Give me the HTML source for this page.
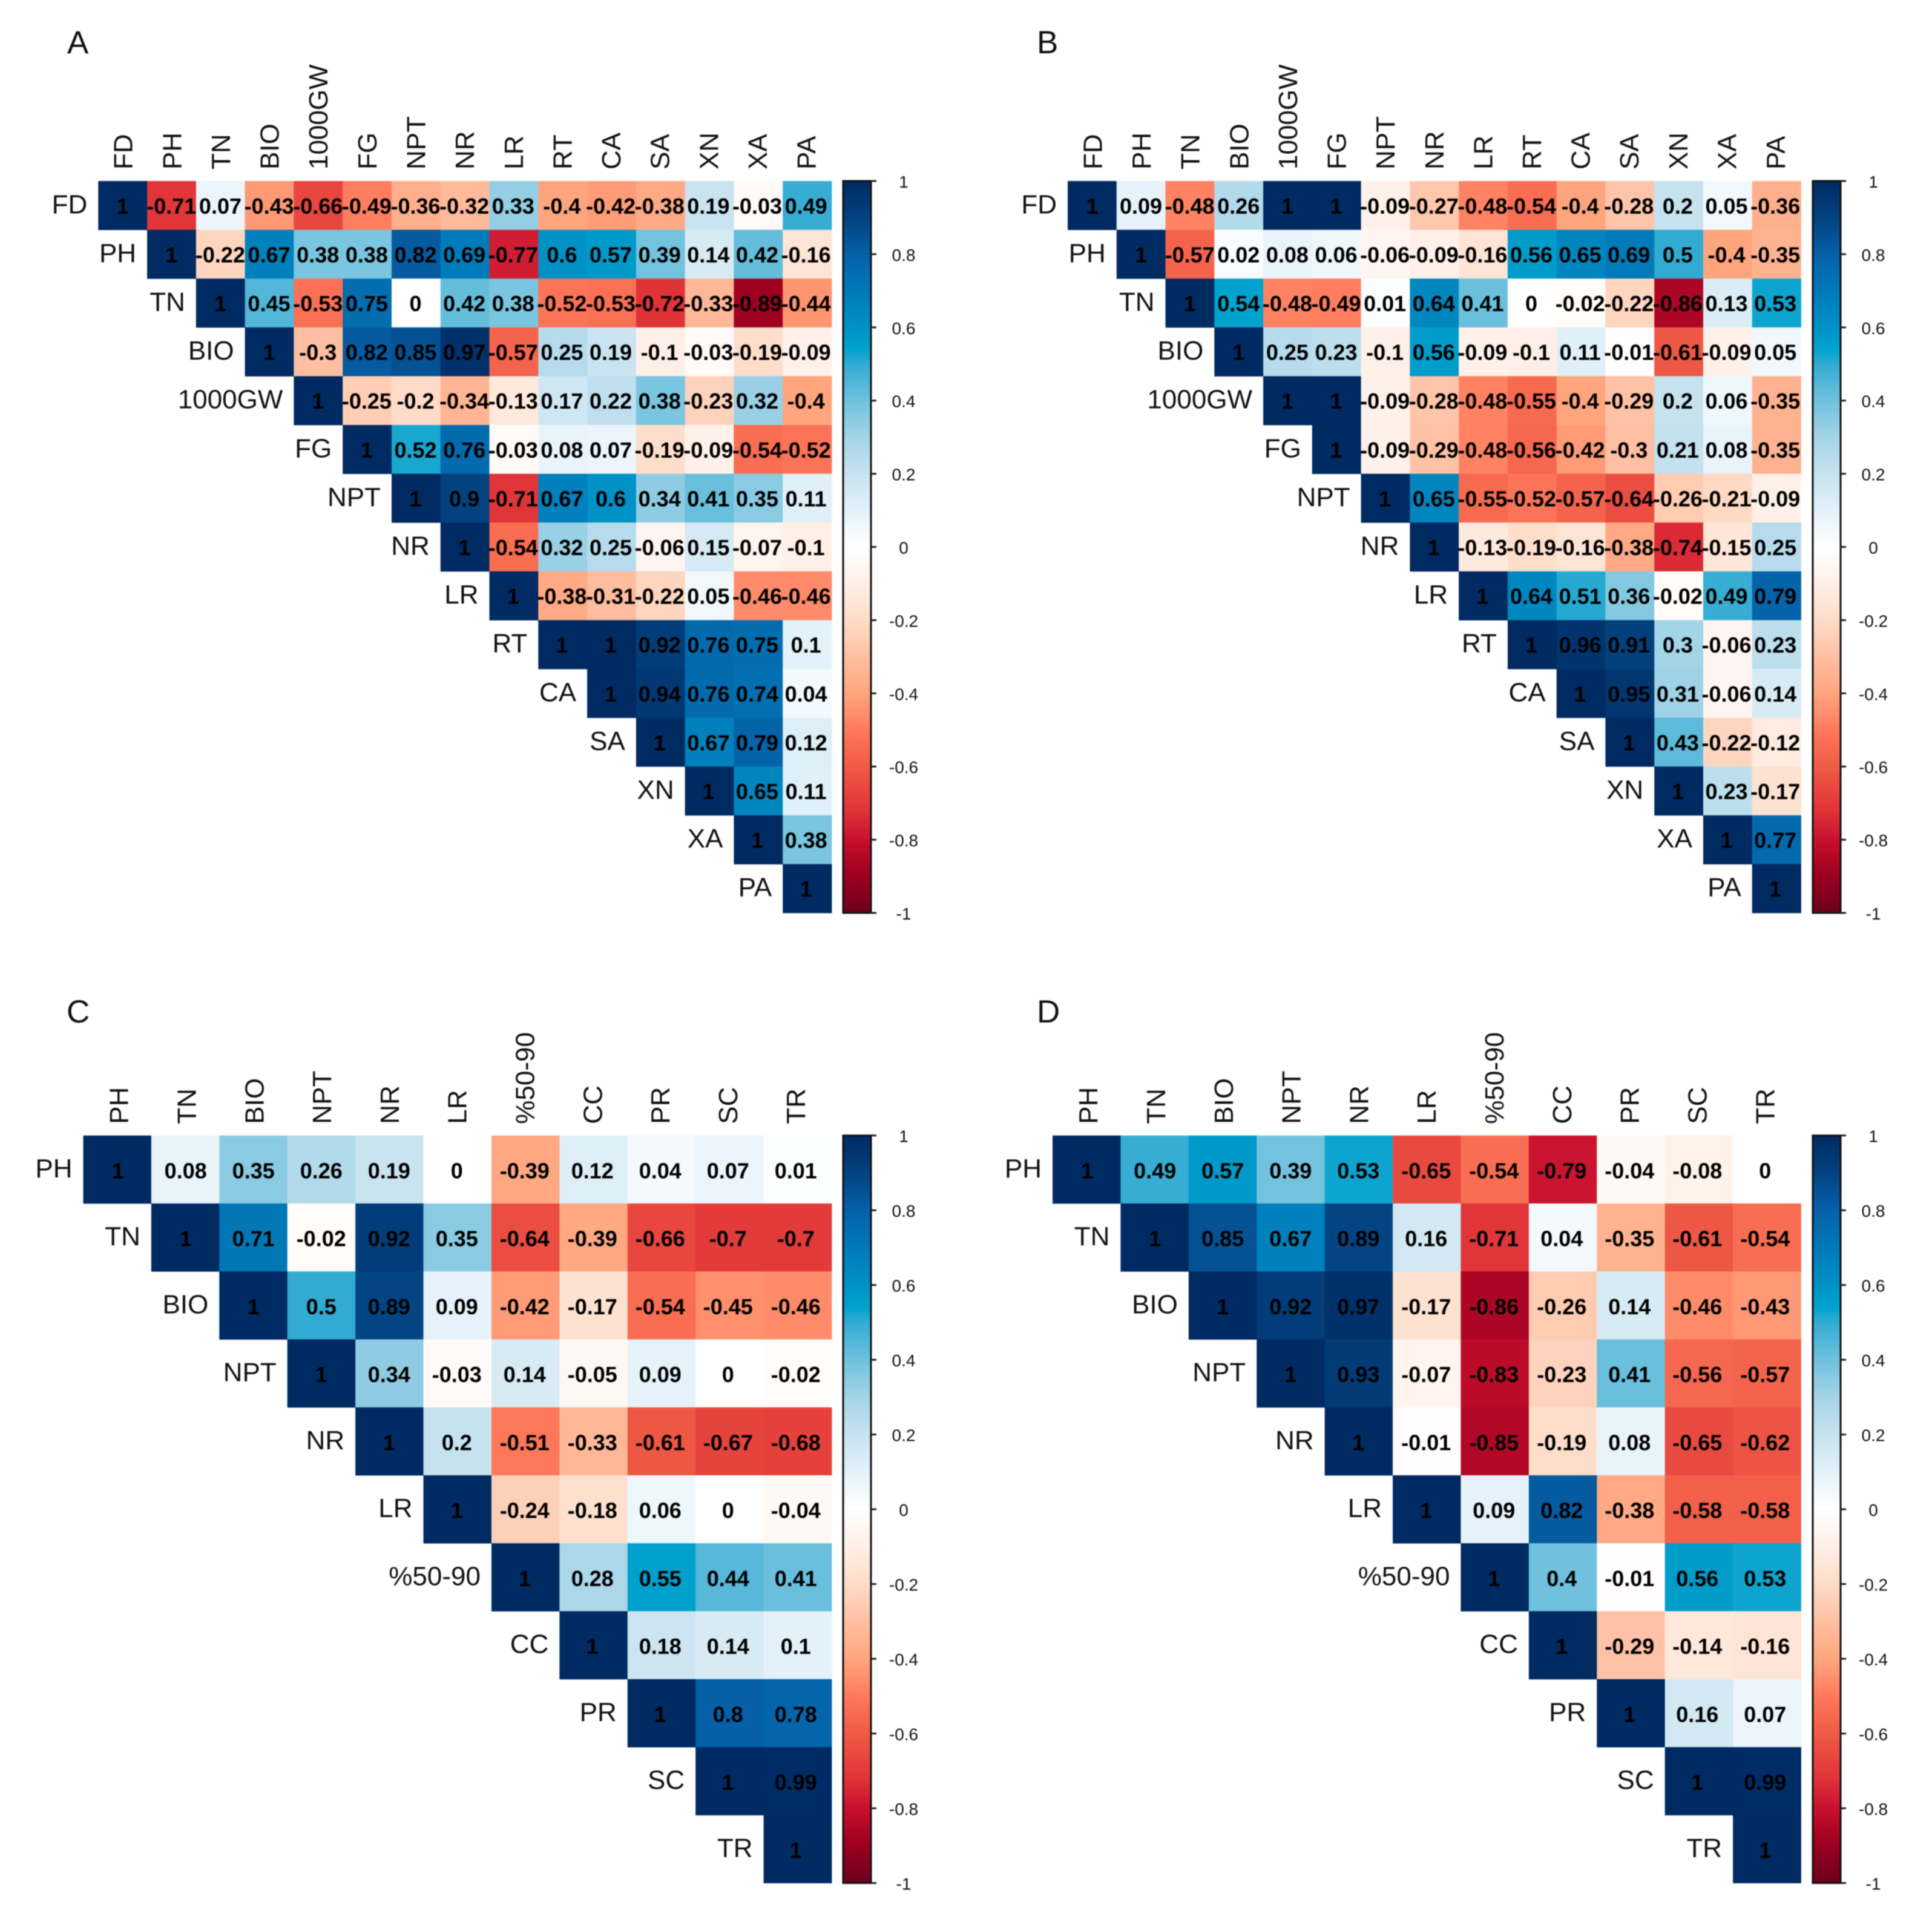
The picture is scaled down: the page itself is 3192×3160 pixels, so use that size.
<!DOCTYPE html>
<html lang="en">
<head>
<meta charset="utf-8">
<title>Correlation matrices A–D</title>
<style>
  html, body { margin: 0; padding: 0; background: #fff; }
  #figure { display: block; width: 3192px; height: 3160px; filter: blur(0.9px); }
  text { font-family: "Liberation Sans", Arial, sans-serif; fill: #000; }
  .val { font-size: 36px; font-weight: bold; text-anchor: middle; }
  .lab { font-size: 44px; fill: #111; }
  .tick { font-size: 28px; text-anchor: middle; fill: #111; }
  .letter { font-size: 53px; fill: #111; }
</style>
</head>
<body>
<svg id="figure" xmlns="http://www.w3.org/2000/svg" width="3192" height="3160" viewBox="0 0 3192 3160">
  <defs id="defs"></defs>
  <rect x="0" y="0" width="3192" height="3160" fill="#ffffff"></rect>
  <g id="panel-a"></g>
  <g id="panel-b"></g>
  <g id="panel-c"></g>
  <g id="panel-d"></g>
</svg>
<script>
// ---------- data ----------
const labelsAB = ["FD","PH","TN","BIO","1000GW","FG","NPT","NR","LR","RT","CA","SA","XN","XA","PA"];
const labelsCD = ["PH","TN","BIO","NPT","NR","LR","%50-90","CC","PR","SC","TR"];
const colorbarTicks = [1,0.8,0.6,0.4,0.2,0,-0.2,-0.4,-0.6,-0.8,-1];

const matrixA = [
  [1,-0.71,0.07,-0.43,-0.66,-0.49,-0.36,-0.32,0.33,-0.4,-0.42,-0.38,0.19,-0.03,0.49],
  [1,-0.22,0.67,0.38,0.38,0.82,0.69,-0.77,0.6,0.57,0.39,0.14,0.42,-0.16],
  [1,0.45,-0.53,0.75,0,0.42,0.38,-0.52,-0.53,-0.72,-0.33,-0.89,-0.44],
  [1,-0.3,0.82,0.85,0.97,-0.57,0.25,0.19,-0.1,-0.03,-0.19,-0.09],
  [1,-0.25,-0.2,-0.34,-0.13,0.17,0.22,0.38,-0.23,0.32,-0.4],
  [1,0.52,0.76,-0.03,0.08,0.07,-0.19,-0.09,-0.54,-0.52],
  [1,0.9,-0.71,0.67,0.6,0.34,0.41,0.35,0.11],
  [1,-0.54,0.32,0.25,-0.06,0.15,-0.07,-0.1],
  [1,-0.38,-0.31,-0.22,0.05,-0.46,-0.46],
  [1,1,0.92,0.76,0.75,0.1],
  [1,0.94,0.76,0.74,0.04],
  [1,0.67,0.79,0.12],
  [1,0.65,0.11],
  [1,0.38],
  [1]
];
const matrixB = [
  [1,0.09,-0.48,0.26,1,1,-0.09,-0.27,-0.48,-0.54,-0.4,-0.28,0.2,0.05,-0.36],
  [1,-0.57,0.02,0.08,0.06,-0.06,-0.09,-0.16,0.56,0.65,0.69,0.5,-0.4,-0.35],
  [1,0.54,-0.48,-0.49,0.01,0.64,0.41,0,-0.02,-0.22,-0.86,0.13,0.53],
  [1,0.25,0.23,-0.1,0.56,-0.09,-0.1,0.11,-0.01,-0.61,-0.09,0.05],
  [1,1,-0.09,-0.28,-0.48,-0.55,-0.4,-0.29,0.2,0.06,-0.35],
  [1,-0.09,-0.29,-0.48,-0.56,-0.42,-0.3,0.21,0.08,-0.35],
  [1,0.65,-0.55,-0.52,-0.57,-0.64,-0.26,-0.21,-0.09],
  [1,-0.13,-0.19,-0.16,-0.38,-0.74,-0.15,0.25],
  [1,0.64,0.51,0.36,-0.02,0.49,0.79],
  [1,0.96,0.91,0.3,-0.06,0.23],
  [1,0.95,0.31,-0.06,0.14],
  [1,0.43,-0.22,-0.12],
  [1,0.23,-0.17],
  [1,0.77],
  [1]
];
const matrixC = [
  [1,0.08,0.35,0.26,0.19,0,-0.39,0.12,0.04,0.07,0.01],
  [1,0.71,-0.02,0.92,0.35,-0.64,-0.39,-0.66,-0.7,-0.7],
  [1,0.5,0.89,0.09,-0.42,-0.17,-0.54,-0.45,-0.46],
  [1,0.34,-0.03,0.14,-0.05,0.09,0,-0.02],
  [1,0.2,-0.51,-0.33,-0.61,-0.67,-0.68],
  [1,-0.24,-0.18,0.06,0,-0.04],
  [1,0.28,0.55,0.44,0.41],
  [1,0.18,0.14,0.1],
  [1,0.8,0.78],
  [1,0.99],
  [1]
];
const matrixD = [
  [1,0.49,0.57,0.39,0.53,-0.65,-0.54,-0.79,-0.04,-0.08,0],
  [1,0.85,0.67,0.89,0.16,-0.71,0.04,-0.35,-0.61,-0.54],
  [1,0.92,0.97,-0.17,-0.86,-0.26,0.14,-0.46,-0.43],
  [1,0.93,-0.07,-0.83,-0.23,0.41,-0.56,-0.57],
  [1,-0.01,-0.85,-0.19,0.08,-0.65,-0.62],
  [1,0.09,0.82,-0.38,-0.58,-0.58],
  [1,0.4,-0.01,0.56,0.53],
  [1,-0.29,-0.14,-0.16],
  [1,0.16,0.07],
  [1,0.99],
  [1]
];

// ---------- colour scale ----------
const scaleValues = [-1,-0.89,-0.8,-0.72,-0.6,-0.5,-0.4,-0.3,-0.2,-0.1,0,0.1,0.2,0.3,0.4,0.5,0.54,0.6,0.7,0.8,0.9,1];
const scaleColors = ["#6a001c","#a00020","#c8102e","#e03338","#ef5a45","#ff7a5c","#ffa57e","#ffbfa2","#fedcc8","#ffefe6","#ffffff","#e3f1f9","#c6e2ef","#a4d4e8","#6fc1dd","#32abd2","#00a3ce","#0091c6","#0079b8","#0560a8","#03427f","#002a62"];

function hexToRgb(h) {
  return [parseInt(h.slice(1,3),16), parseInt(h.slice(3,5),16), parseInt(h.slice(5,7),16)];
}
function colorScale(v) {
  let i = 0;
  while (i < scaleValues.length - 2 && v > scaleValues[i + 1]) i++;
  const t = Math.max(0, Math.min(1, (v - scaleValues[i]) / (scaleValues[i + 1] - scaleValues[i])));
  const a = hexToRgb(scaleColors[i]);
  const b = hexToRgb(scaleColors[i + 1]);
  return "rgb(" + a.map((c, k) => Math.round(c + (b[k] - c) * t)).join(",") + ")";
}

// ---------- helpers ----------
const NS = "http://www.w3.org/2000/svg";
function make(tag, parent) {
  const el = document.createElementNS(NS, tag);
  parent.appendChild(el);
  return el;
}
function setAll(el, attrs) {
  for (const k in attrs) el.setAttribute(k, attrs[k]);
}

// gradient for the colour bars
const grad = make("linearGradient", document.getElementById("defs"));
setAll(grad, { id: "colorbar-gradient", x1: 0, y1: 0, x2: 0, y2: 1 });
for (let i = 0; i <= 200; i++) {
  const stop = make("stop", grad);
  setAll(stop, { offset: (i / 200), "stop-color": colorScale(1 - i / 100) });
}

function drawPanel(cfg) {
  const root = document.getElementById(cfg.id);
  const n = cfg.labels.length;
  const cw = (cfg.right - cfg.left) / n;
  const ch = (cfg.bottom - cfg.top) / n;
  const xScale = c => cfg.left + c * cw;
  const yScale = r => cfg.top + r * ch;
  const barScale = v => cfg.top + (1 - v) / 2 * (cfg.bottom - cfg.top);
  // text columns sit on a slightly tighter pitch than the cells
  const valueX = c => xScale(c) + cw / 2 + cfg.valDx - cfg.valDrift * c / (n - 1);
  const topLabelX = c => xScale(c) + cw / 2 + cfg.topDx - cfg.topDrift * c / (n - 1);

  // panel letter
  const letter = make("text", root);
  setAll(letter, { class: "letter", x: cfg.letterX, y: cfg.letterY });
  letter.textContent = cfg.letter;
  
  

  // cells
  cfg.matrix.forEach((row, r) => {
    row.forEach((v, k) => {
      const c = r + k;
      const cell = make("rect", root);
      setAll(cell, { x: xScale(c), y: yScale(r), width: cw + 0.4, height: ch + 0.4, fill: colorScale(v) });
      
      
    });
  });
  // printed values (above all cells)
  cfg.matrix.forEach((row, r) => {
    row.forEach((v, k) => {
      const c = r + k;
      const t = make("text", root);
      setAll(t, { class: "val", x: valueX(c), y: yScale(r) + ch / 2 + cfg.valDy });
      t.textContent = String(v);
      
      
    });
  });

  // axis labels
  cfg.labels.forEach((name, i) => {
    const top = make("text", root);
    const tx = topLabelX(i);
    const ty = cfg.top - 19;
    setAll(top, { class: "lab", x: tx, y: ty, transform: "rotate(-90 " + tx + " " + ty + ")" });
    top.textContent = name;
    
    

    const left = make("text", root);
    setAll(left, { class: "lab", x: xScale(i) - 18, y: yScale(i) + ch / 2 + 13, "text-anchor": "end" });
    left.textContent = name;
    
    
  });

  // colour bar
  const bar = make("rect", root);
  setAll(bar, { x: cfg.barLeft, y: cfg.top, width: cfg.barWidth, height: cfg.bottom - cfg.top, fill: "url(#colorbar-gradient)", stroke: "#111", "stroke-width": 3 });
  
  

  colorbarTicks.forEach(v => {
    const y = barScale(v);
    const line = make("line", root);
    setAll(line, { x1: cfg.barLeft + cfg.barWidth, x2: cfg.barLeft + cfg.barWidth + 9, y1: y, y2: y, stroke: "#222", "stroke-width": 3 });
    
    

    const lab = make("text", root);
    setAll(lab, { class: "tick", x: cfg.barLeft + 100, y: y + 11 });
    lab.textContent = String(v);
    
    
  });
}

drawPanel({ id: "panel-a", letter: "A", letterX: 111, letterY: 88, labels: labelsAB, matrix: matrixA,
  left: 162.3, right: 1374, top: 299, bottom: 1508, barLeft: 1393, barWidth: 46,
  valDx: 0, valDrift: 2, valDy: 13.5, topDx: 16, topDrift: 2 });
drawPanel({ id: "panel-b", letter: "B", letterX: 1713, letterY: 88, labels: labelsAB, matrix: matrixB,
  left: 1764, right: 2975.5, top: 299, bottom: 1508, barLeft: 2995, barWidth: 46,
  valDx: 0, valDrift: 2, valDy: 13.5, topDx: 16, topDrift: 2 });
drawPanel({ id: "panel-c", letter: "C", letterX: 110, letterY: 1689, labels: labelsCD, matrix: matrixC,
  left: 137.5, right: 1374, top: 1875.7, bottom: 3110.5, barLeft: 1393, barWidth: 46,
  valDx: 1, valDrift: 4, valDy: 14.5, topDx: 18, topDrift: 6 });
drawPanel({ id: "panel-d", letter: "D", letterX: 1713, letterY: 1689, labels: labelsCD, matrix: matrixD,
  left: 1739, right: 2975.5, top: 1875.7, bottom: 3110.5, barLeft: 2995, barWidth: 46,
  valDx: 1, valDrift: 4, valDy: 14.5, topDx: 18, topDrift: 6 });
</script>
</body>
</html>
